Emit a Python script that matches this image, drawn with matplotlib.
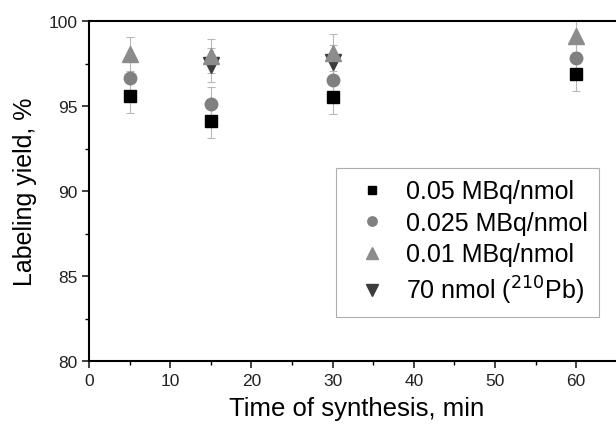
import numpy as np
import matplotlib
matplotlib.use("Agg")
import matplotlib.pyplot as plt
from matplotlib.ticker import MultipleLocator
from matplotlib.lines import Line2D

plt.rcParams['font.family'] = ['Liberation Sans', 'DejaVu Sans']

# data
time_min = [5, 15, 30, 60]
y_005 = [95.6, 94.1, 95.55, 96.9]
y_0025 = [96.65, 95.1, 96.55, 97.85]
y_001 = [98.05, 97.95, 98.15, 99.1]
time_pb = [15, 30]
y_pb = [97.4, 97.6]
err_005 = [1.0, 1.0, 1.0, 1.0]
err_0025 = [1.0, 1.0, 1.0, 1.0]
err_001 = [1.0, 1.0, 1.1, 0.9]
err_pb = [1.0, 1.0]

series = [
    (time_min, y_005, err_005, "s", "black", 8, "0.05 MBq/nmol"),
    (time_min, y_0025, err_0025, "o", "#808080", 9, "0.025 MBq/nmol"),
    (time_pb, y_pb, err_pb, "v", "#3c3c3c", 11, "70 nmol ($^{210}$Pb)"),
    (time_min, y_001, err_001, "^", "#8c8c8c", 11, "0.01 MBq/nmol"),
]

fig = plt.figure(figsize=(6.16, 4.27), dpi=100)
ax = fig.add_axes([0.1445, 0.152, 0.87, 0.796])

handles = {}
for x, y, e, m, c, ms, lab in series:
    ax.errorbar(x, y, yerr=e, fmt="none", ecolor="#b8b8b8",
                elinewidth=0.8, capsize=3, capthick=0.8, zorder=2)
    ax.plot(x, y, ls="none", marker=m, color=c, ms=ms, zorder=3)
    handles[lab] = Line2D([], [], ls="none", marker=m, color=c, ms=ms * 0.75)

order = ["0.05 MBq/nmol", "0.025 MBq/nmol", "0.01 MBq/nmol", "70 nmol ($^{210}$Pb)"]

ax.set_xlim(0, 66)
ax.set_ylim(80, 100)
ax.xaxis.set_major_locator(MultipleLocator(10))
ax.xaxis.set_minor_locator(MultipleLocator(5))
ax.yaxis.set_major_locator(MultipleLocator(5))
ax.yaxis.set_minor_locator(MultipleLocator(2.5))
ax.tick_params(which="major", direction="out", length=5, width=1.2, labelsize=12.5, colors="#222222")
ax.tick_params(which="minor", direction="out", length=3, width=1.0)
for s in ["left", "bottom", "top"]:
    ax.spines[s].set_linewidth(1.5)
ax.spines["right"].set_visible(False)

ax.set_xlabel("Time of synthesis, min", fontsize=18.5, labelpad=6)
ax.set_ylabel("Labeling yield, %", fontsize=18, labelpad=8)

leg = ax.legend([handles[k] for k in order], order, loc="upper left",
                bbox_to_anchor=(0.461, 0.568), borderaxespad=0, fontsize=18,
                frameon=True, fancybox=False, edgecolor="#999999",
                handletextpad=0.35, labelspacing=0.3, borderpad=0.45,
                handlelength=2.0)
leg.get_frame().set_linewidth(0.8)

fig.savefig("out.png", dpi=100)
